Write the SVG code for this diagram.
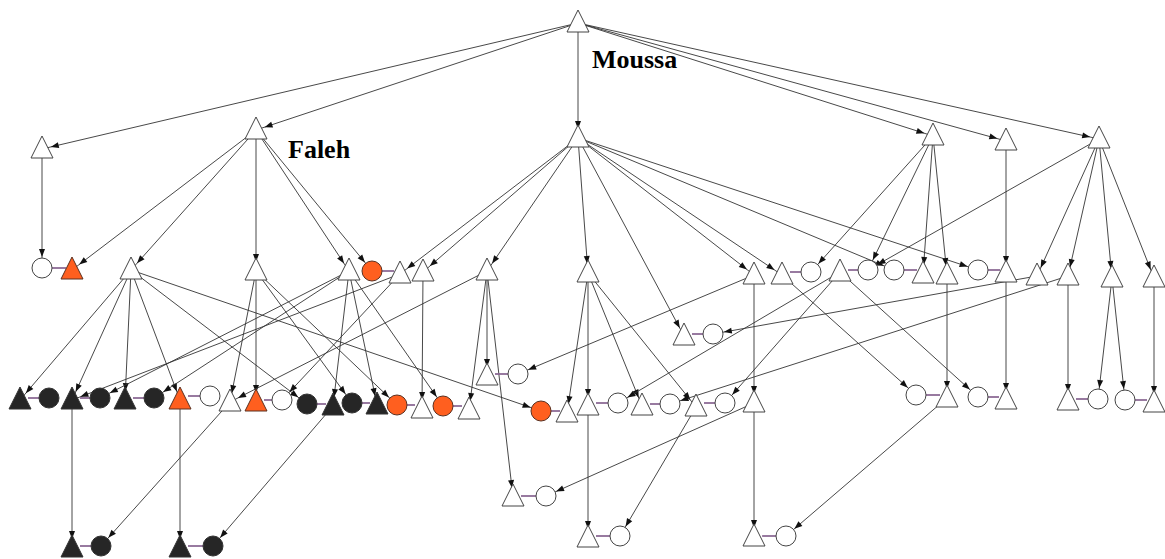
<svg xmlns="http://www.w3.org/2000/svg" width="1165" height="559" viewBox="0 0 1165 559">
<style>
.e{stroke:#333;stroke-width:0.9;fill:none}
.et{marker-end:url(#at)}
.ec{marker-end:url(#ac)}
.m{stroke:#86638f;stroke-width:1.7}
.w{fill:#fff;stroke:#444;stroke-width:1}
.k{fill:#262626;stroke:#333;stroke-width:1}
.o{fill:#ff5f1f;stroke:#5a3020;stroke-width:1}
.lbl{font-family:"Liberation Serif","Times New Roman",serif;font-weight:bold;font-size:26px;fill:#000}
</style>
<defs>
<marker id="at" viewBox="0 -4 20 8" refX="17" refY="0" markerWidth="20" markerHeight="8" markerUnits="userSpaceOnUse" orient="auto" overflow="visible"><path d="M0,-3 L8,0 L0,3 Z" fill="#111"/></marker>
<marker id="ac" viewBox="0 -4 20 8" refX="19" refY="0" markerWidth="20" markerHeight="8" markerUnits="userSpaceOnUse" orient="auto" overflow="visible"><path d="M0,-3 L8,0 L0,3 Z" fill="#111"/></marker>
<path id="t" d="M0,0 L11,22 L-11,22 Z"/>
<circle id="c" r="10"/>
</defs>
<rect width="1165" height="559" fill="#fff"/>
<g id="connectors">
<line class="e et" x1="578" y1="23" x2="42" y2="149"/>
<line class="e et" x1="578" y1="23" x2="256" y2="130"/>
<line class="e et" x1="578" y1="23" x2="578" y2="138"/>
<line class="e et" x1="578" y1="23" x2="933" y2="136"/>
<line class="e et" x1="578" y1="23" x2="1006" y2="141"/>
<line class="e et" x1="578" y1="23" x2="1099" y2="139"/>
<line class="e ec" x1="42" y1="149" x2="42" y2="268"/>
<line class="e et" x1="256" y1="130" x2="72" y2="270"/>
<line class="e et" x1="256" y1="130" x2="131" y2="270"/>
<line class="e et" x1="256" y1="130" x2="256" y2="271"/>
<line class="e et" x1="256" y1="130" x2="349" y2="271"/>
<line class="e ec" x1="256" y1="130" x2="372" y2="271"/>
<line class="e et" x1="578" y1="138" x2="400" y2="274"/>
<line class="e et" x1="578" y1="138" x2="423" y2="272"/>
<line class="e et" x1="578" y1="138" x2="487" y2="271"/>
<line class="e et" x1="578" y1="138" x2="588" y2="273"/>
<line class="e et" x1="578" y1="138" x2="684" y2="336"/>
<line class="e et" x1="578" y1="138" x2="754" y2="275"/>
<line class="e et" x1="578" y1="138" x2="782" y2="275"/>
<line class="e ec" x1="578" y1="138" x2="894" y2="270"/>
<line class="e ec" x1="578" y1="138" x2="978" y2="270"/>
<line class="e ec" x1="933" y1="136" x2="811" y2="272"/>
<line class="e ec" x1="933" y1="136" x2="868" y2="270"/>
<line class="e et" x1="933" y1="136" x2="923" y2="274"/>
<line class="e et" x1="933" y1="136" x2="947" y2="275"/>
<line class="e et" x1="1006" y1="141" x2="1006" y2="273"/>
<line class="e ec" x1="1099" y1="139" x2="868" y2="270"/>
<line class="e et" x1="1099" y1="139" x2="1037" y2="276"/>
<line class="e et" x1="1099" y1="139" x2="1068" y2="276"/>
<line class="e et" x1="1099" y1="139" x2="1112" y2="278"/>
<line class="e et" x1="1099" y1="139" x2="1154" y2="278"/>
<line class="e et" x1="131" y1="270" x2="20" y2="400"/>
<line class="e et" x1="131" y1="270" x2="72" y2="400"/>
<line class="e et" x1="131" y1="270" x2="125" y2="400"/>
<line class="e et" x1="131" y1="270" x2="180" y2="400"/>
<line class="e ec" x1="131" y1="270" x2="307" y2="404"/>
<line class="e ec" x1="131" y1="270" x2="541" y2="411"/>
<line class="e et" x1="256" y1="271" x2="230" y2="402"/>
<line class="e et" x1="256" y1="271" x2="256" y2="402"/>
<line class="e ec" x1="256" y1="271" x2="397" y2="405"/>
<line class="e ec" x1="256" y1="271" x2="352" y2="403"/>
<line class="e ec" x1="349" y1="271" x2="100" y2="398"/>
<line class="e ec" x1="349" y1="271" x2="154" y2="398"/>
<line class="e et" x1="349" y1="271" x2="333" y2="406"/>
<line class="e et" x1="349" y1="271" x2="377" y2="405"/>
<line class="e ec" x1="349" y1="271" x2="443" y2="406"/>
<line class="e et" x1="400" y1="274" x2="72" y2="400"/>
<line class="e ec" x1="400" y1="274" x2="282" y2="400"/>
<line class="e et" x1="423" y1="272" x2="422" y2="409"/>
<line class="e et" x1="487" y1="271" x2="230" y2="402"/>
<line class="e et" x1="487" y1="271" x2="487" y2="376"/>
<line class="e et" x1="487" y1="271" x2="469" y2="410"/>
<line class="e et" x1="487" y1="271" x2="513" y2="497"/>
<line class="e et" x1="588" y1="273" x2="567" y2="413"/>
<line class="e et" x1="588" y1="273" x2="588" y2="406"/>
<line class="e et" x1="588" y1="273" x2="642" y2="406"/>
<line class="e et" x1="588" y1="273" x2="696" y2="407"/>
<line class="e et" x1="754" y1="275" x2="754" y2="403"/>
<line class="e ec" x1="754" y1="275" x2="518" y2="374"/>
<line class="e ec" x1="782" y1="275" x2="916" y2="395"/>
<line class="e ec" x1="840" y1="272" x2="618" y2="403"/>
<line class="e ec" x1="840" y1="272" x2="725" y2="403"/>
<line class="e ec" x1="840" y1="272" x2="978" y2="397"/>
<line class="e et" x1="947" y1="275" x2="947" y2="398"/>
<line class="e et" x1="1006" y1="273" x2="1006" y2="400"/>
<line class="e ec" x1="1037" y1="276" x2="713" y2="334"/>
<line class="e ec" x1="1068" y1="276" x2="670" y2="404"/>
<line class="e et" x1="1068" y1="276" x2="1068" y2="401"/>
<line class="e ec" x1="1112" y1="278" x2="1098" y2="399"/>
<line class="e ec" x1="1112" y1="278" x2="1125" y2="400"/>
<line class="e et" x1="1154" y1="278" x2="1154" y2="403"/>
<line class="e et" x1="72" y1="400" x2="72" y2="548"/>
<line class="e et" x1="180" y1="400" x2="180" y2="548"/>
<line class="e ec" x1="230" y1="402" x2="101" y2="546"/>
<line class="e ec" x1="333" y1="406" x2="213" y2="546"/>
<line class="e et" x1="588" y1="406" x2="588" y2="538"/>
<line class="e et" x1="754" y1="403" x2="754" y2="537"/>
<line class="e ec" x1="696" y1="407" x2="620" y2="536"/>
<line class="e ec" x1="754" y1="403" x2="546" y2="496"/>
<line class="e ec" x1="947" y1="398" x2="786" y2="536"/>
<line class="m" x1="52" y1="268" x2="66" y2="268"/>
<line class="m" x1="382" y1="271" x2="394" y2="271"/>
<line class="m" x1="790" y1="272" x2="801" y2="272"/>
<line class="m" x1="848" y1="270" x2="858" y2="270"/>
<line class="m" x1="904" y1="270" x2="917" y2="270"/>
<line class="m" x1="988" y1="270" x2="1000" y2="270"/>
<line class="m" x1="692" y1="334" x2="703" y2="334"/>
<line class="m" x1="495" y1="374" x2="508" y2="374"/>
<line class="m" x1="28" y1="398" x2="39" y2="398"/>
<line class="m" x1="80" y1="398" x2="90" y2="398"/>
<line class="m" x1="133" y1="398" x2="144" y2="398"/>
<line class="m" x1="188" y1="396" x2="200" y2="396"/>
<line class="m" x1="264" y1="400" x2="272" y2="400"/>
<line class="m" x1="317" y1="404" x2="326" y2="404"/>
<line class="m" x1="362" y1="403" x2="370" y2="403"/>
<line class="m" x1="407" y1="405" x2="415" y2="405"/>
<line class="m" x1="453" y1="406" x2="462" y2="406"/>
<line class="m" x1="551" y1="411" x2="560" y2="411"/>
<line class="m" x1="596" y1="403" x2="608" y2="403"/>
<line class="m" x1="650" y1="404" x2="660" y2="404"/>
<line class="m" x1="704" y1="403" x2="715" y2="403"/>
<line class="m" x1="926" y1="395" x2="940" y2="395"/>
<line class="m" x1="988" y1="397" x2="999" y2="397"/>
<line class="m" x1="1076" y1="399" x2="1088" y2="399"/>
<line class="m" x1="1135" y1="400" x2="1147" y2="400"/>
<line class="m" x1="521" y1="496" x2="536" y2="496"/>
<line class="m" x1="80" y1="546" x2="91" y2="546"/>
<line class="m" x1="188" y1="546" x2="203" y2="546"/>
<line class="m" x1="596" y1="536" x2="610" y2="536"/>
<line class="m" x1="762" y1="536" x2="776" y2="536"/>
</g>
<g id="n-moussa"><use href="#t" x="578" y="10" class="w"/><text class="lbl" x="592" y="68">Moussa</text></g>
<g id="n-A"><use href="#t" x="42" y="136" class="w"/></g>
<g id="n-faleh"><use href="#t" x="256" y="117" class="w"/><text class="lbl" x="288" y="158">Faleh</text></g>
<g id="n-B"><use href="#t" x="578" y="125" class="w"/></g>
<g id="n-C"><use href="#t" x="933" y="123" class="w"/></g>
<g id="n-D"><use href="#t" x="1006" y="128" class="w"/></g>
<g id="n-E"><use href="#t" x="1099" y="126" class="w"/></g>
<g id="n-2a"><use href="#c" x="42" y="268" class="w"/></g>
<g id="n-2b"><use href="#t" x="72" y="257" class="o"/></g>
<g id="n-F"><use href="#t" x="131" y="257" class="w"/></g>
<g id="n-G"><use href="#t" x="256" y="258" class="w"/></g>
<g id="n-H"><use href="#t" x="349" y="258" class="w"/></g>
<g id="n-2c"><use href="#c" x="372" y="271" class="o"/></g>
<g id="n-2d"><use href="#t" x="400" y="261" class="w"/></g>
<g id="n-2e"><use href="#t" x="423" y="259" class="w"/></g>
<g id="n-I"><use href="#t" x="487" y="258" class="w"/></g>
<g id="n-J"><use href="#t" x="588" y="260" class="w"/></g>
<g id="n-K"><use href="#t" x="754" y="262" class="w"/></g>
<g id="n-L"><use href="#t" x="782" y="262" class="w"/></g>
<g id="n-2f"><use href="#c" x="811" y="272" class="w"/></g>
<g id="n-M"><use href="#t" x="840" y="259" class="w"/></g>
<g id="n-2g"><use href="#c" x="868" y="270" class="w"/></g>
<g id="n-2h"><use href="#c" x="894" y="270" class="w"/></g>
<g id="n-2i"><use href="#t" x="923" y="261" class="w"/></g>
<g id="n-2j"><use href="#t" x="947" y="262" class="w"/></g>
<g id="n-2k"><use href="#c" x="978" y="270" class="w"/></g>
<g id="n-2l"><use href="#t" x="1006" y="260" class="w"/></g>
<g id="n-2m"><use href="#t" x="1037" y="263" class="w"/></g>
<g id="n-2n"><use href="#t" x="1068" y="263" class="w"/></g>
<g id="n-2o"><use href="#t" x="1112" y="265" class="w"/></g>
<g id="n-2p"><use href="#t" x="1154" y="265" class="w"/></g>
<g id="n-25a"><use href="#t" x="684" y="323" class="w"/></g>
<g id="n-25b"><use href="#c" x="713" y="334" class="w"/></g>
<g id="n-3xa"><use href="#t" x="487" y="363" class="w"/></g>
<g id="n-3xb"><use href="#c" x="518" y="374" class="w"/></g>
<g id="n-3a"><use href="#t" x="20" y="387" class="k"/></g>
<g id="n-3b"><use href="#c" x="49" y="398" class="k"/></g>
<g id="n-3c"><use href="#t" x="72" y="387" class="k"/></g>
<g id="n-3d"><use href="#c" x="100" y="398" class="k"/></g>
<g id="n-3e"><use href="#t" x="125" y="387" class="k"/></g>
<g id="n-3f"><use href="#c" x="154" y="398" class="k"/></g>
<g id="n-3g"><use href="#t" x="180" y="387" class="o"/></g>
<g id="n-3h"><use href="#c" x="210" y="396" class="w"/></g>
<g id="n-3i"><use href="#t" x="230" y="389" class="w"/></g>
<g id="n-3j"><use href="#t" x="256" y="389" class="o"/></g>
<g id="n-3k"><use href="#c" x="282" y="400" class="w"/></g>
<g id="n-3l"><use href="#c" x="307" y="404" class="k"/></g>
<g id="n-3m"><use href="#t" x="333" y="393" class="k"/></g>
<g id="n-3n"><use href="#c" x="352" y="403" class="k"/></g>
<g id="n-3o"><use href="#t" x="377" y="392" class="k"/></g>
<g id="n-3p"><use href="#c" x="397" y="405" class="o"/></g>
<g id="n-3q"><use href="#t" x="422" y="396" class="w"/></g>
<g id="n-3r"><use href="#c" x="443" y="406" class="o"/></g>
<g id="n-3s"><use href="#t" x="469" y="397" class="w"/></g>
<g id="n-3t"><use href="#c" x="541" y="411" class="o"/></g>
<g id="n-3u"><use href="#t" x="567" y="400" class="w"/></g>
<g id="n-3v"><use href="#t" x="588" y="393" class="w"/></g>
<g id="n-3w"><use href="#c" x="618" y="403" class="w"/></g>
<g id="n-3x"><use href="#t" x="642" y="393" class="w"/></g>
<g id="n-3y"><use href="#c" x="670" y="404" class="w"/></g>
<g id="n-3z"><use href="#t" x="696" y="394" class="w"/></g>
<g id="n-3aa"><use href="#c" x="725" y="403" class="w"/></g>
<g id="n-3ab"><use href="#t" x="754" y="390" class="w"/></g>
<g id="n-3ac"><use href="#c" x="916" y="395" class="w"/></g>
<g id="n-3ad"><use href="#t" x="947" y="385" class="w"/></g>
<g id="n-3ae"><use href="#c" x="978" y="397" class="w"/></g>
<g id="n-3af"><use href="#t" x="1006" y="387" class="w"/></g>
<g id="n-3ag"><use href="#t" x="1068" y="388" class="w"/></g>
<g id="n-3ah"><use href="#c" x="1098" y="399" class="w"/></g>
<g id="n-3ai"><use href="#c" x="1125" y="400" class="w"/></g>
<g id="n-3aj"><use href="#t" x="1154" y="390" class="w"/></g>
<g id="n-4a"><use href="#t" x="513" y="484" class="w"/></g>
<g id="n-4b"><use href="#c" x="546" y="496" class="w"/></g>
<g id="n-5a"><use href="#t" x="72" y="535" class="k"/></g>
<g id="n-5b"><use href="#c" x="101" y="546" class="k"/></g>
<g id="n-5c"><use href="#t" x="180" y="535" class="k"/></g>
<g id="n-5d"><use href="#c" x="213" y="546" class="k"/></g>
<g id="n-5e"><use href="#t" x="588" y="525" class="w"/></g>
<g id="n-5f"><use href="#c" x="620" y="536" class="w"/></g>
<g id="n-5g"><use href="#t" x="754" y="524" class="w"/></g>
<g id="n-5h"><use href="#c" x="786" y="536" class="w"/></g>
</svg>
